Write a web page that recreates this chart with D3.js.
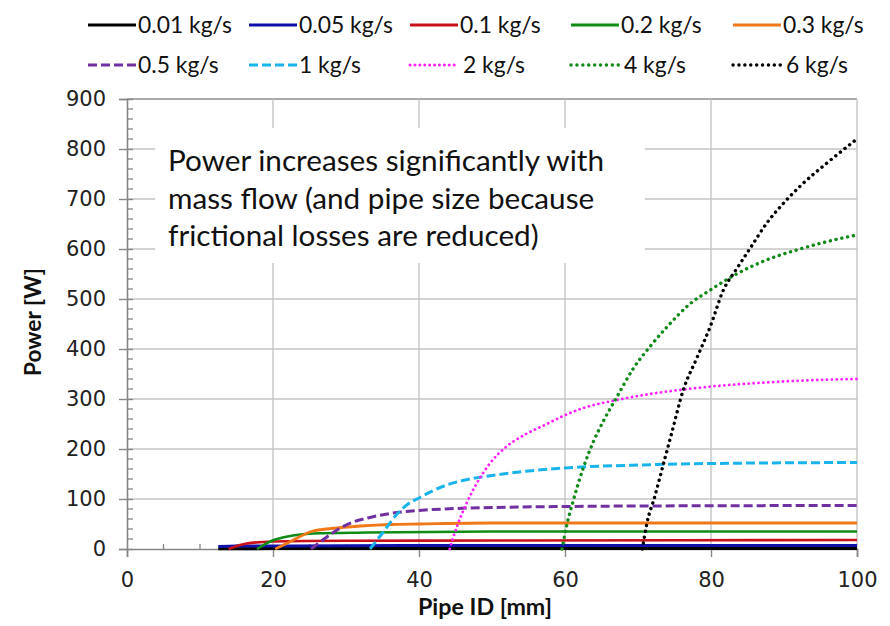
<!DOCTYPE html>
<html>
<head>
<meta charset="utf-8">
<script src="https://cdn.jsdelivr.net/npm/d3@7"></script>
<style>
  html, body { margin: 0; padding: 0; background: #fff; }
  svg { display: block; }
</style>
</head>
<body>
<svg id="chart" width="890" height="626"></svg>
<script>
// ---------------- DATA ----------------
const seriesNames = ["0.01 kg/s", "0.05 kg/s", "0.1 kg/s", "0.2 kg/s", "0.3 kg/s",
                     "0.5 kg/s", "1 kg/s", "2 kg/s", "4 kg/s", "6 kg/s"];

// [Pipe ID (mm), Power (W)]
const s001 = [[12.5,0.5],[20,1],[40,1],[100,1]];
const s005 = [[12.5,5],[15,6],[20,6],[40,7],[100,7]];
const s01  = [[13.9,0],[16.4,11],[20,15],[30,16.5],[50,17],[100,18]];
const s02  = [[17.8,0],[20.3,19],[25.5,31],[32.8,33],[50,35],[100,35]];
const s03  = [[20.3,0],[22,12],[25.5,36],[28,41],[32,46],[36,49],[40,50],[50,52],[100,52]];
const s05  = [[25.2,0],[27,20],[29,40],[31,54],[33,62],[36,71],[40,77],[45,81],[50,83],[60,85],[70,86],[100,87]];
const s1   = [[33.3,0],[35,32],[37,70],[38.5,90],[40,102],[42,117],[44,129],[46,137],[50,147],[55,156],[60,162],[70,168],[80,171],[100,173]];
const s2   = [[44.2,0],[45.2,45],[46.5,91],[47.9,131],[49.7,171],[52,205],[54.3,227],[57.5,250],[60.2,269],[62.5,282],[67.1,298],[71.6,310],[76.2,319],[80.8,326],[85.3,331],[89.9,335],[94.5,338],[100,340]];
const s4   = [[59.6,0],[60.2,45],[61.1,95],[62.5,162],[63.9,215],[65.3,257],[67.1,304],[69.4,362],[71.6,404],[73.9,443],[77.1,490],[79.9,518],[83.5,550],[87.6,578],[92.2,600],[96.8,618],[100,628]];
const s6   = [[70.6,0],[71.2,50],[72.3,105],[73.5,171],[74.6,231],[76.2,318],[78,380],[79.9,445],[81.7,518],[83.5,560],[85.3,600],[87.6,651],[89.9,691],[92.6,731],[95.8,771],[100,820]];

const xTicks = [0, 20, 40, 60, 80, 100];
const yTicks = [0, 100, 200, 300, 400, 500, 600, 700, 800, 900];
const annotationLines = ["Power increases significantly with",
                         "mass flow (and pipe size because",
                         "frictional losses are reduced)"];
const xTitle = "Pipe ID [mm]";
const yTitle = "Power [W]";

// ---------------- STYLES ----------------
const seriesData = [s001, s005, s01, s02, s03, s05, s1, s2, s4, s6];
const styles = [
  {color: "#000000", width: 3.2, dash: null},
  {color: "#1010a8", width: 2.8, dash: null},
  {color: "#c8101a", width: 2.6, dash: null},
  {color: "#0f8c16", width: 2.6, dash: null},
  {color: "#f07818", width: 2.8, dash: null},
  {color: "#7030a0", width: 3, dash: "9,4"},
  {color: "#1ab4ec", width: 3, dash: "9,4"},
  {color: "#ff22ff", width: 2.8, dash: "0.1,4.8"},
  {color: "#108a18", width: 3.4, dash: "0.1,5.8"},
  {color: "#000000", width: 3.4, dash: "0.1,5.8"}
];

// ---------------- LAYOUT ----------------
const svg = d3.select("#chart");
const X0 = 127, X1 = 857, Y0 = 549, Y1 = 99;
const x = d3.scaleLinear().domain([0, 100]).range([X0, X1]);
const y = d3.scaleLinear().domain([0, 900]).range([Y0, Y1]);

const tickFont = "'DejaVu Sans', Verdana, sans-serif";
const textFont = "Lato, 'Open Sans', sans-serif";

function fitSize(str, target, family, weight) {
  const t = svg.append("text").attr("font-family", family).attr("font-size", 100)
    .attr("font-weight", weight || "normal").text(str);
  const w = t.node().getComputedTextLength();
  t.remove();
  return 100 * target / w;
}

// gridlines
const grid = svg.append("g");
grid.selectAll("line.h").data(yTicks.filter(v => v > 0)).join("line")
  .attr("x1", X0).attr("x2", X1)
  .attr("y1", d => y(d)).attr("y2", d => y(d))
  .attr("stroke", d => d === 900 ? "#8c8c8c" : "#c4c4c4")
  .attr("stroke-width", d => d === 900 ? 1.6 : 1.4);
grid.selectAll("line.v").data(xTicks.filter(v => v > 0)).join("line")
  .attr("x1", d => x(d)).attr("x2", d => x(d))
  .attr("y1", Y1).attr("y2", Y0)
  .attr("stroke", "#c4c4c4").attr("stroke-width", 1.4);

// annotation white box (covers gridlines)
svg.append("rect").attr("x", 155).attr("y", 128).attr("width", 490).attr("height", 135)
  .attr("fill", "#ffffff");

// axes
const axisColor = "#868686";
const xAxis = d3.axisBottom(x).tickValues(xTicks).tickSize(8).tickFormat(d3.format("d"));
const gx = svg.append("g").attr("transform", `translate(0,${Y0})`).call(xAxis);
gx.select(".domain").attr("stroke", axisColor).attr("stroke-width", 1.6);
gx.selectAll(".tick line").attr("stroke", axisColor).attr("stroke-width", 1.4);
gx.selectAll(".tick text").attr("font-family", tickFont).attr("font-size", 21)
  .attr("fill", "#222").attr("dy", "0").attr("y", 38);

// x minor ticks
const xMinor = d3.range(5, 100, 5).filter(v => v % 20 !== 0);
svg.append("g").selectAll("line").data(xMinor).join("line")
  .attr("x1", d => x(d)).attr("x2", d => x(d))
  .attr("y1", Y0 - 5).attr("y2", Y0 + 1)
  .attr("stroke", axisColor).attr("stroke-width", 1.3);

const yAxis = d3.axisLeft(y).tickValues(yTicks).tickSize(8).tickFormat(d3.format("d"));
const gy = svg.append("g").attr("transform", `translate(${X0},0)`).call(yAxis);
gy.select(".domain").attr("stroke", axisColor).attr("stroke-width", 1.6);
gy.selectAll(".tick line").attr("stroke", axisColor).attr("stroke-width", 1.4)
  .attr("x2", -8).attr("x1", 6);
gy.selectAll(".tick text").attr("font-family", tickFont).attr("font-size", 21)
  .attr("fill", "#222").attr("x", -21);

// y minor ticks
const yMinor = d3.range(20, 900, 20).filter(v => v % 100 !== 0);
svg.append("g").selectAll("line").data(yMinor).join("line")
  .attr("x1", X0).attr("x2", X0 + 6)
  .attr("y1", d => y(d)).attr("y2", d => y(d))
  .attr("stroke", axisColor).attr("stroke-width", 1.3);

// axis titles (fitted to the reference widths)
const xtSize = fitSize(xTitle, 134, textFont, "bold");
const ytSize = fitSize(yTitle, 108, textFont, "bold");
svg.append("text").attr("x", 485).attr("y", 615).attr("text-anchor", "middle")
  .attr("font-family", textFont).attr("font-weight", "bold").attr("font-size", xtSize)
  .attr("fill", "#111").text(xTitle);
svg.append("text").attr("transform", `translate(41,322) rotate(-90)`)
  .attr("text-anchor", "middle")
  .attr("font-family", textFont).attr("font-weight", "bold").attr("font-size", ytSize)
  .attr("fill", "#111").text(yTitle);

// series lines
const line = d3.line().x(d => x(d[0])).y(d => y(d[1])).curve(d3.curveMonotoneX);
const gl = svg.append("g");
seriesData.forEach((data, i) => {
  const st = styles[i];
  const p = gl.append("path").datum(data).attr("d", line)
    .attr("fill", "none").attr("stroke", st.color).attr("stroke-width", st.width)
    .attr("stroke-linejoin", "round");
  if (st.dash) {
    p.attr("stroke-dasharray", st.dash);
    if (st.dash.startsWith("0.1")) p.attr("stroke-linecap", "round");
  }
});

// annotation text, fitted to its measured width
const annSize = fitSize(annotationLines[0], 436, textFont);
const annBase = [171, 209, 246];
svg.append("g").selectAll("text").data(annotationLines).join("text")
  .attr("x", 168).attr("y", (d, i) => annBase[i])
  .attr("font-family", textFont).attr("font-size", annSize).attr("fill", "#111")
  .text(d => d);

// legend
const legSize = fitSize(seriesNames[0], 94, textFont);
const colX = [88, 249, 410, 571, 733];
const rowY = [25, 65];
const gLeg = svg.append("g");
seriesNames.forEach((name, i) => {
  const st = styles[i];
  const cx = colX[i % 5], cy = rowY[Math.floor(i / 5)];
  const ln = gLeg.append("line").attr("x1", cx).attr("x2", cx + 48)
    .attr("y1", cy).attr("y2", cy)
    .attr("stroke", st.color).attr("stroke-width", Math.max(st.width, 3));
  if (st.dash) {
    ln.attr("stroke-dasharray", st.dash);
    if (st.dash.startsWith("0.1")) ln.attr("stroke-linecap", "round");
  }
  const tx = (i >= 7) ? cx + 53 : cx + 50;
  gLeg.append("text").attr("x", tx).attr("y", cy + 8)
    .attr("font-family", textFont).attr("font-size", legSize).attr("fill", "#111")
    .text(name);
});
</script>
</body>
</html>
